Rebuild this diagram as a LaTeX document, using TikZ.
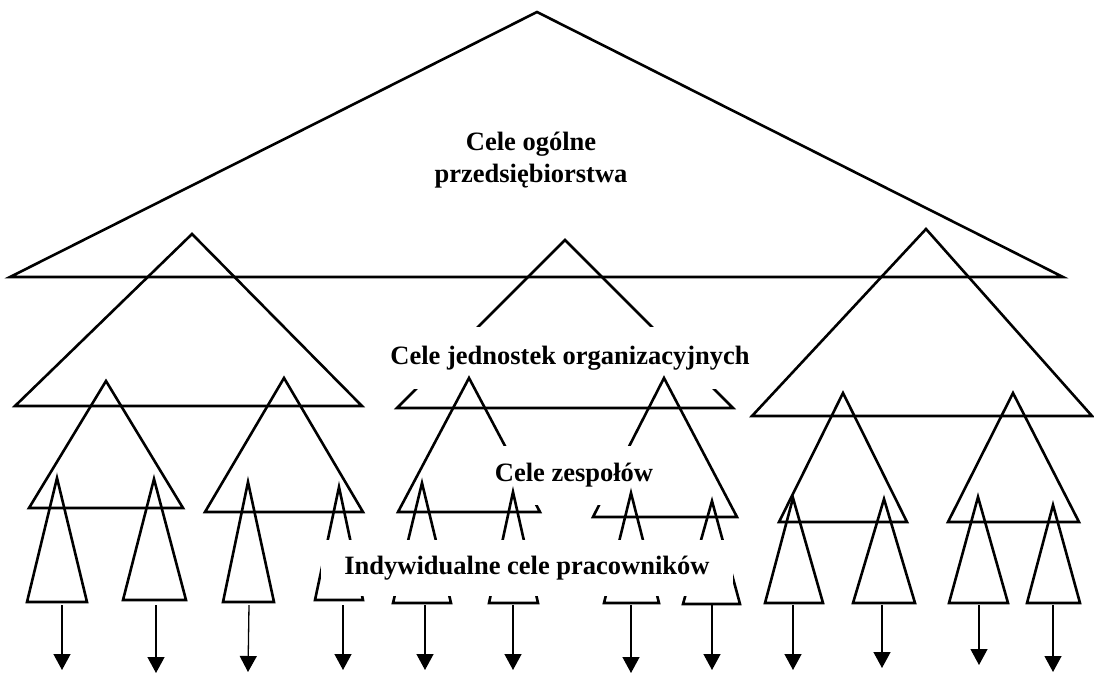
\documentclass[tikz,border=0pt]{standalone}
\usepackage{fontspec}
\setmainfont{Liberation Serif}
\usetikzlibrary{arrows.meta}
\begin{document}
\begin{tikzpicture}[x=1pt,y=-1pt,
  goal/.style={draw=black,line width=2.6pt,line join=miter},
  mask/.style={fill=white,inner sep=0pt,font=\fontsize{26.5}{32}\selectfont\bfseries},
  label/.style={inner sep=0pt,align=center,font=\fontsize{26.5}{32}\selectfont\bfseries},
  flow/.style={line width=1.3pt,-{Triangle[length=16pt,width=17pt]}}]
\useasboundingbox (0,0) rectangle (1094,675);

% triangle: apex x/apex y/base y/left x/right x
\newcommand\goaltri[5]{\draw[goal] (#1,#2) -- (#5,#3) -- (#4,#3) -- cycle;}

% company goals
\goaltri{537}{12}{277}{10}{1063}
\node[label] (company) at (531,160) {Cele ogólne\\przedsiębiorstwa};

% organisational units
\goaltri{192}{234}{406}{15}{362}
\goaltri{565}{240}{408}{397}{733}
\goaltri{926}{229}{416}{752}{1092}
\node[mask,minimum width=370pt,minimum height=62pt] (units) at (570,358)
  {Cele jednostek organizacyjnych};

% teams
\goaltri{106}{381}{508}{29}{183}
\goaltri{284}{378}{512}{205}{363}
\goaltri{469}{378}{512}{398}{540}
\goaltri{664}{378}{517}{593}{737}
\goaltri{843}{393}{522}{779}{907}
\goaltri{1013}{393}{522}{948}{1079}
\node[mask,minimum width=170pt,minimum height=59pt] (teams) at (574,475.5)
  {Cele zespołów};

% individual employees
\goaltri{57}{478}{602}{27}{87}
\goaltri{154}{479}{600}{123}{186}
\goaltri{248}{482}{602}{223}{274}
\goaltri{339}{487}{600}{315}{363}
\goaltri{422}{483}{603}{393}{451}
\goaltri{513}{492}{603}{489}{538}
\goaltri{631}{493}{603}{604}{659}
\goaltri{712}{501}{604}{683}{740}
\goaltri{793}{498}{603}{765}{823}
\goaltri{884}{499}{603}{853}{915}
\goaltri{978}{497}{603}{949}{1008}
\goaltri{1053}{505}{603}{1027}{1080}
\node[mask,minimum width=412pt,minimum height=56pt] (people) at (527,568)
  {Indywidualne cele pracowników};

% outgoing arrows
\foreach \n/\xs/\xe/\ye in {a/62/62/670, b/156/156/673, c/249/248/672, d/343/343/670,
    e/425/425/670, f/513/513/670, g/631/631/673, h/712/712/670,
    i/793/793/670, j/882/882/668, k/979/979/665, l/1053/1053/672}{
  \coordinate (s\n) at (\xs,605);
  \coordinate (t\n) at (\xe,\ye);
  \draw[flow] (s\n) -- (t\n);
}
\end{tikzpicture}
\end{document}
